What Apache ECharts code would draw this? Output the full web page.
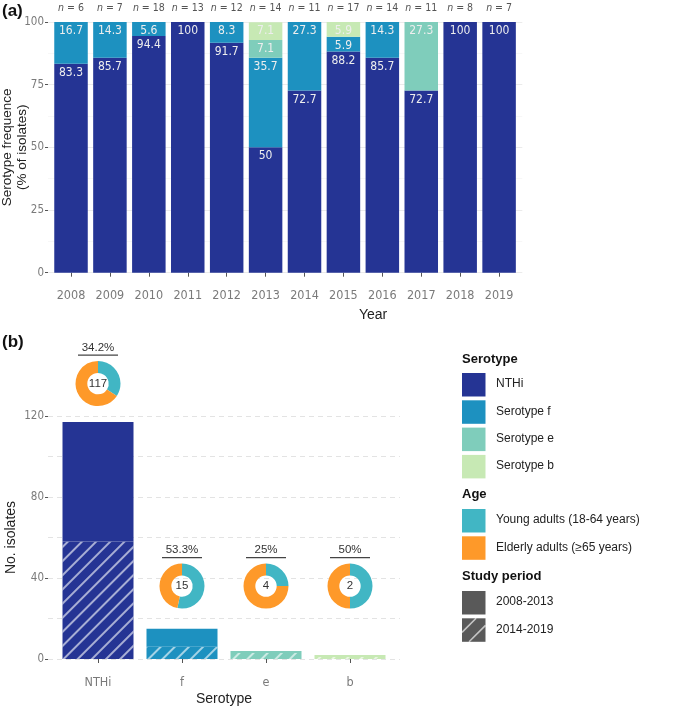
<!DOCTYPE html>
<html><head><meta charset="utf-8">
<script src="https://cdn.jsdelivr.net/npm/echarts@6/dist/echarts.min.js"></script>
<style>html,body{margin:0;padding:0;background:#fff}#c{width:684px;height:707px}</style>
</head><body><div id="c"></div>
<script>
// ---------- data ----------
const years = ['2008', '2009', '2010', '2011', '2012', '2013', '2014', '2015', '2016', '2017', '2018', '2019'];
const nIsolates = [6, 7, 18, 13, 12, 14, 11, 17, 14, 11, 8, 7];
const pctNTHi = [83.3, 85.7, 94.4, 100, 91.7, 50, 72.7, 88.2, 85.7, 72.7, 100, 100];
const pctF    = [16.7, 14.3, 5.6, null, 8.3, 35.7, 27.3, 5.9, 14.3, null, null, null];
const pctE    = [null, null, null, null, null, 7.1, null, null, null, 27.3, null, null];
const pctB    = [null, null, null, null, null, 7.1, null, 5.9, null, null, null, null];

const serotypeCats = ['NTHi', 'f', 'e', 'b'];
const count2008_2013 = [59, 9, 1, 1];
const count2014_2019 = [58, 6, 3, 1];
const totals = [117, 15, 4, 2];
const youngPct = [34.2, 53.3, 25, 50];

const serotypeLegend = ['NTHi', 'Serotype f', 'Serotype e', 'Serotype b'];
const ageLegend = ['Young adults (18-64 years)', 'Elderly adults (\u226565 years)'];
const periodLegend = ['2008-2013', '2014-2019'];

// ---------- styles ----------
const C_NTHI = '#253494', C_F = '#1d91c0', C_E = '#7fcdbb', C_B = '#c7e9b4';
const SERO_COLORS = [C_NTHI, C_F, C_E, C_B];
const C_YOUNG = '#41b6c4', C_ELDER = '#fe9929', C_PERIOD = '#595959';
const NARROW = "'Liberation Sans Narrow','DejaVu Sans Condensed',sans-serif";
const SANS = "'Liberation Sans',Arial,sans-serif";
const TICK_GRAY = '#7a7a7a';
const HATCH = {symbol: 'rect', symbolSize: 1, dashArrayX: [1, 0], dashArrayY: [2, 7.5], rotation: -Math.PI / 4, color: 'rgba(255,255,255,0.6)'};
const DONUT_MIN = 17, DONUT_GAP = 19;

const chart = echarts.init(document.getElementById('c'), null, {renderer: 'canvas'});

function topSeries(name, arr, color) {
  return {
    type: 'bar', name, xAxisIndex: 1, yAxisIndex: 1, stack: 'a', barWidth: 33.5,
    data: arr,
    itemStyle: {color},
    label: {show: true, position: 'insideTop', distance: 3, color: '#eeeeee', fontSize: 12, fontFamily: NARROW,
      formatter: p => (p.value == null ? '' : String(p.value))},
    emphasis: {disabled: true}
  };
}

function bottomBar(name, arr, decal) {
  return {
    type: 'bar', name, xAxisIndex: 4, yAxisIndex: 3, stack: 'b', barWidth: 71,
    data: arr.map((v, i) => ({value: v, itemStyle: {color: SERO_COLORS[i]}})),
    itemStyle: decal ? {decal: HATCH} : {},
    emphasis: {disabled: true}
  };
}

// legend graphics
const graphics = [];
function legTitle(t, y) {
  graphics.push({type: 'text', left: 462, top: y - 8, style: {text: t, fontSize: 13, fontWeight: 'bold', fill: '#111', fontFamily: SANS}});
}
function legBox(t, y, color, hatched) {
  graphics.push({type: 'rect', shape: {x: 462, y: y, width: 23.5, height: 23.5}, style: {fill: color}});
  if (hatched) {
    const s = 23.5;
    [0.6, 1.3].forEach(d => {
      const k = d * s;
      const x1 = Math.max(0, k - s), y1 = k - x1;
      const x2 = Math.min(s, k), y2 = k - x2;
      graphics.push({type: 'line', shape: {x1: 462 + x1, y1: y + y1, x2: 462 + x2, y2: y + y2}, style: {stroke: 'rgba(255,255,255,0.65)', lineWidth: 1.6}});
    });
  }
  graphics.push({type: 'text', left: 496, top: y + 5, style: {text: t, fontSize: 12, fill: '#222', fontFamily: SANS}});
}
legTitle('Serotype', 361);
serotypeLegend.forEach((t, i) => legBox(t, 373 + i * 27.3, SERO_COLORS[i]));
legTitle('Age', 496);
ageLegend.forEach((t, i) => legBox(t, 509 + i * 27.3, i === 0 ? C_YOUNG : C_ELDER));
legTitle('Study period', 578);
periodLegend.forEach((t, i) => legBox(t, 591 + i * 27.3, C_PERIOD, i === 1));
graphics.push({type: 'text', left: 2, top: 3, style: {text: '(a)', fontSize: 17, fontWeight: 'bold', fill: '#111', fontFamily: SANS}});
graphics.push({type: 'text', left: 2, top: 334, style: {text: '(b)', fontSize: 17, fontWeight: 'bold', fill: '#111', fontFamily: SANS}});

const hiddenX = g => ({gridIndex: g, type: 'value', min: 0, max: 1, show: false});

const option = {
  animation: false,
  backgroundColor: '#fff',
  textStyle: {fontFamily: SANS},
  grid: [
    {left: 48, right: 161.7, top: 22, bottom: 434.3, outerBoundsMode: 'none', containLabel: false},      // panel a, gridlines
    {left: 51.55, right: 165.45, top: 22, bottom: 434.3, outerBoundsMode: 'none', containLabel: false},  // panel a, bars
    {left: 48, right: 284, top: 416, bottom: 48, outerBoundsMode: 'none', containLabel: false},          // panel b, gridlines
    {left: 56, right: 292, top: 416, bottom: 48, outerBoundsMode: 'none', containLabel: false}           // panel b, bars
  ],
  xAxis: [
    hiddenX(0),
    {
      gridIndex: 1, type: 'category', data: years, offset: 4,
      axisLine: {show: false}, splitLine: {show: false},
      axisTick: {show: true, alignWithLabel: true, length: 4, lineStyle: {color: '#555'}},
      axisLabel: {interval: 0, margin: 13, color: TICK_GRAY, fontSize: 12.5, fontFamily: NARROW},
      name: 'Year', nameLocation: 'middle', nameGap: 31,
      nameTextStyle: {fontSize: 14, color: '#222', fontFamily: SANS, padding: [0, 0, 0, 176]}
    },
    {
      gridIndex: 1, type: 'category', data: years, position: 'top',
      axisLine: {show: false}, splitLine: {show: false}, axisTick: {show: false},
      axisLabel: {interval: 0, margin: 8, color: '#555', fontSize: 10.5, fontFamily: NARROW,
        formatter: (v, i) => '{i|n} = ' + nIsolates[i],
        rich: {i: {fontStyle: 'italic', fontSize: 10.5, color: '#555', fontFamily: NARROW}}}
    },
    hiddenX(2),
    {
      gridIndex: 3, type: 'category', data: serotypeCats, offset: 10,
      axisLine: {show: false}, splitLine: {show: false},
      axisTick: {show: true, alignWithLabel: true, length: 4, lineStyle: {color: '#555'}},
      axisLabel: {interval: 0, margin: 7, color: TICK_GRAY, fontSize: 12.5, fontFamily: NARROW},
      name: 'Serotype', nameLocation: 'middle', nameGap: 23,
      nameTextStyle: {fontSize: 14, color: '#222', fontFamily: SANS}
    }
  ],
  yAxis: [
    {
      gridIndex: 0, type: 'value', min: 0, max: 100, interval: 25,
      axisLine: {show: false},
      axisTick: {show: true, length: 3, lineStyle: {color: '#555'}},
      axisLabel: {margin: 4, color: TICK_GRAY, fontSize: 11.5, fontFamily: NARROW},
      splitLine: {show: true, lineStyle: {color: '#ebebeb', width: 1}},
      minorTick: {show: false, splitNumber: 2},
      minorSplitLine: {show: true, lineStyle: {color: '#f3f3f3', width: 0.7}},
      name: 'Serotype frequence\n(% of isolates)', nameLocation: 'middle', nameRotate: 90, nameGap: 18.5,
      nameMoveOverlap: false,
      nameTextStyle: {fontSize: 13.5, lineHeight: 14.5, color: '#222', fontFamily: SANS}
    },
    {gridIndex: 1, type: 'value', min: 0, max: 100, show: false},
    {
      gridIndex: 2, type: 'value', min: 0, max: 120, interval: 40,
      axisLine: {show: false},
      axisTick: {show: true, length: 3, lineStyle: {color: '#555'}},
      axisLabel: {margin: 4, color: TICK_GRAY, fontSize: 11.5, fontFamily: NARROW},
      splitLine: {show: true, lineStyle: {color: '#e3e3e3', width: 1, type: [5, 4]}},
      minorTick: {show: false, splitNumber: 2},
      minorSplitLine: {show: true, lineStyle: {color: '#e3e3e3', width: 1, type: [5, 4]}},
      name: 'No. isolates', nameLocation: 'middle', nameRotate: 90, nameGap: 30,
      nameMoveOverlap: false,
      nameTextStyle: {fontSize: 14, color: '#222', fontFamily: SANS}
    },
    {gridIndex: 3, type: 'value', min: 0, max: 120, show: false}
  ],
  series: [
    topSeries('NTHi', pctNTHi, C_NTHI),
    topSeries('Serotype f', pctF, C_F),
    topSeries('Serotype e', pctE, C_E),
    topSeries('Serotype b', pctB, C_B),
    bottomBar('2014-2019', count2014_2019, true),
    bottomBar('2008-2013', count2008_2013, false),
    {
      type: 'custom', name: 'Age', xAxisIndex: 4, yAxisIndex: 3, clip: false, z: 5,
      data: serotypeCats.map((c, i) => [i, totals[i], youngPct[i]]),
      renderItem: (params, api) => {
        const x = api.value(0), total = api.value(1), pct = api.value(2);
        const c = api.coord([x, Math.max(total, DONUT_MIN) + DONUT_GAP]);
        const a0 = -Math.PI / 2, a1 = a0 + 2 * Math.PI * pct / 100;
        return {type: 'group', children: [
          {type: 'sector', shape: {cx: c[0], cy: c[1], r0: 10.7, r: 22.5, startAngle: a0, endAngle: a1, clockwise: true}, style: {fill: C_YOUNG}},
          {type: 'sector', shape: {cx: c[0], cy: c[1], r0: 10.7, r: 22.5, startAngle: a1, endAngle: a0 + 2 * Math.PI, clockwise: true}, style: {fill: C_ELDER}},
          {type: 'text', style: {x: c[0], y: c[1], text: String(total), align: 'center', verticalAlign: 'middle', fontSize: 11.5, fill: '#333', fontFamily: SANS}},
          {type: 'text', style: {x: c[0], y: c[1] - 36, text: pct + '%', align: 'center', verticalAlign: 'middle', fontSize: 11.5, fill: '#333', fontFamily: SANS}},
          {type: 'line', shape: {x1: c[0] - 20, y1: c[1] - 28.5, x2: c[0] + 20, y2: c[1] - 28.5}, style: {stroke: '#444', lineWidth: 1.4}}
        ]};
      }
    }
  ],
  graphic: graphics
};
chart.setOption(option);
</script>
</body></html>
